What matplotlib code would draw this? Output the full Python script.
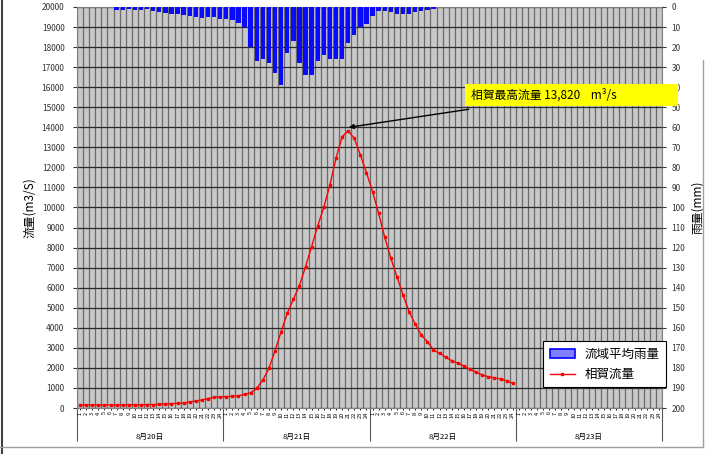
import matplotlib
matplotlib.use("Agg")
import matplotlib.pyplot as plt
import numpy as np
from matplotlib.patches import Patch, Rectangle
from matplotlib.lines import Line2D
from matplotlib.transforms import blended_transform_factory

plt.rcParams['font.family'] = ['Noto Sans CJK JP', 'DejaVu Sans']

days = ["8月20日", "8月21日", "8月22日", "8月23日"]
hour_labels = [str(h) for h in range(1, 25)] * 4

rain = [0, 0, 0, 0, 0, 0, 1.5, 1.5, 1, 1.5, 1.5, 1, 2, 2.5, 3, 3.5, 3.5, 4, 4.5, 5,
        5.5, 5, 5, 6, 6, 6.5, 8, 10, 20, 27, 26, 28, 33, 39, 23, 17, 28, 34, 34, 27,
        24, 26, 26, 26, 18, 14, 10, 8.5, 4.5, 2, 2, 2.4, 3.5, 3.5, 3.5, 2.5, 2, 1.5, 1.2] + [0] * 37

flow = [150, 150, 150, 150, 150, 150, 150, 150, 160, 160,
        160, 170, 170, 180, 200, 220,
        230, 250, 300, 350, 400, 470, 530, 560,
        570, 580, 610, 680,
        765, 980, 1400, 1980, 2860, 3810, 4720, 5420, 6100, 7050,
        8050, 9080, 10010, 11120, 12450, 13530, 13820, 13450, 12620, 11740,
        10790, 9710, 8510, 7470, 6550, 5640, 4800, 4190, 3640, 3310,
        2890, 2730, 2530, 2360, 2230, 2100, 1930, 1780, 1650, 1560,
        1510, 1450, 1360, 1230]

peak_label = "相賀最高流量 13,820    m³/s"

fig = plt.figure(figsize=(7.08, 4.54), dpi=100)
ax = fig.add_axes([77/708, 1 - 408/454, (662-77)/708, (408-7)/454])
ax.set_facecolor('#c8c8c8')

n = len(rain)
xr = np.arange(n) + 0.5
xf = np.arange(len(flow)) + 0.5

# grid
for b in range(n + 1):
    ax.axvline(b, color='#6a6a6a', lw=0.9, zorder=1)
for v in range(0, 20001, 1000):
    ax.axhline(v, color='#2a2a2a', lw=0.9, zorder=1)

ax.set_xlim(0, n)
ax.set_ylim(0, 20000)
ax.set_yticks(range(0, 20001, 1000))
ax.set_yticklabels([str(v) for v in range(0, 20001, 1000)], fontsize=6)
ax.tick_params(axis='y', length=3, pad=6, colors='#333333')

# x ticks
ax.set_xticks([0, 24, 48, 72, 96])
ax.set_xticklabels([])
ax.tick_params(axis='x', which='major', length=24, width=0.8, color='#555555')
ax.set_xticks(xr, minor=True)
ax.set_xticklabels(hour_labels, minor=True, rotation=90, fontsize=4)
ax.tick_params(axis='x', which='minor', length=1.5, pad=1, width=0.6, labelcolor='black')

trans = blended_transform_factory(ax.transData, ax.transAxes)
for i, d in enumerate(days):
    ax.text(24 * i + 12, -0.072, d, transform=trans, ha='center', va='center', fontsize=5.5)

for s in ax.spines.values():
    s.set_color('#808080')

line, = ax.plot(xf, flow, color='#ff0000', lw=1.0, marker='s', markersize=1.6, zorder=5)

ax2 = ax.twinx()
ax2.patch.set_visible(False)
ax2.bar(xr, rain, width=0.72, color='#0a0aff', zorder=3)
ax2.set_ylim(200, 0)
ax2.set_yticks(range(0, 201, 10))
ax2.set_yticklabels([str(v) for v in range(0, 201, 10)], fontsize=6)
ax2.tick_params(axis='y', length=3, pad=4, colors='#333333')
for s in ax2.spines.values():
    s.set_visible(False)

ax.set_ylabel("流量(m3/S)", fontsize=8.5, labelpad=4)
ax2.set_ylabel("雨量(mm)", fontsize=8.5, rotation=90, labelpad=4)

# annotation
ax.annotate('', xy=(44.6, 14000), xytext=(64.3, 14900),
            arrowprops=dict(arrowstyle='-|>', color='black', lw=1.0,
                            mutation_scale=7, shrinkA=0, shrinkB=0), zorder=6)
fig.add_artist(Rectangle((465/708, 1 - 106/454), (678-465)/708, 22/454,
                         facecolor='#ffff00', edgecolor='none', zorder=7))
fig.text(471/708, 1 - 95/454, peak_label, fontsize=8.5, ha='left', va='center', zorder=8)

handles = [Patch(facecolor='#8080ff', edgecolor='#0000ff', lw=1.2),
           Line2D([0], [0], color='#ff0000', lw=1.0, marker='s', markersize=2.0)]
leg = fig.legend(handles, ["流域平均雨量", "相賀流量"], loc='upper left',
                 bbox_to_anchor=(537/708, 1 - 335/454), fontsize=9,
                 frameon=True, fancybox=False, edgecolor='black', framealpha=1,
                 borderpad=0.5, labelspacing=0.6, handlelength=2.0)
leg.get_frame().set_linewidth(0.8)

# outer frame lines
fig.add_artist(Line2D([2/708, 2/708], [0, 1], color='#404040', lw=1.5))
fig.add_artist(Line2D([0, 703/708], [1 - 447/454, 1 - 447/454], color='#a0a0a0', lw=1.0))
fig.add_artist(Line2D([703/708, 703/708], [1 - 447/454, 1 - 60/454], color='#a0a0a0', lw=1.0))

fig.savefig("out.png", dpi=100)
